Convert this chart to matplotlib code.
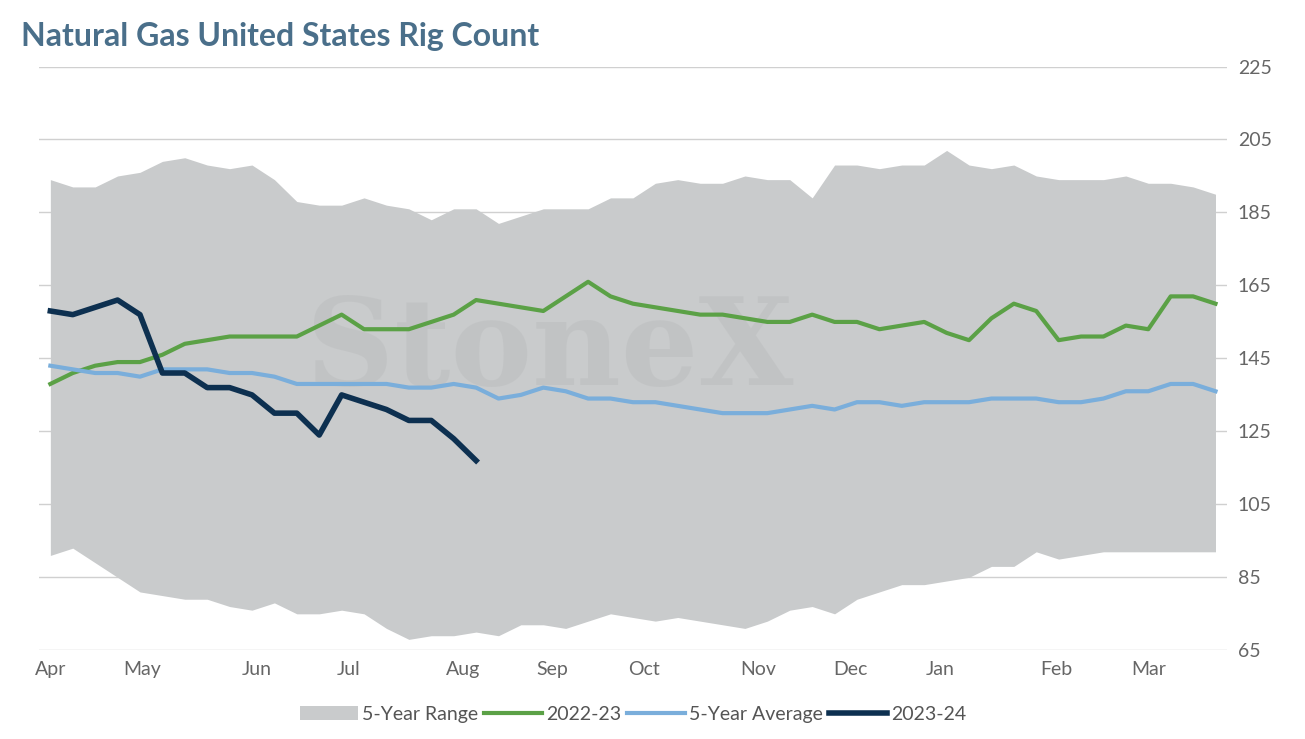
import matplotlib.pyplot as plt
plt.rcParams['font.family'] = ['Lato', 'DejaVu Sans']
weeks = list(range(53))
month_pos = [0, 4.1, 9.2, 13.3, 18.4, 22.4, 26.5, 31.6, 35.7, 39.7, 44.9, 49.0]
month_labels = ['Apr', 'May', 'Jun', 'Jul', 'Aug', 'Sep', 'Oct', 'Nov', 'Dec', 'Jan', 'Feb', 'Mar']
range_high = [194, 192, 192, 195, 196, 199, 200, 198, 197, 198,
              194, 188, 187, 187, 189, 187, 186, 183, 186, 186,
              182, 184, 186, 186, 186, 189, 189, 193, 194, 193,
              193, 195, 194, 194, 189, 198, 198, 197, 198, 198,
              202, 198, 197, 198, 195, 194, 194, 194, 195, 193,
              193, 192, 190]
range_low = [91, 93, 89, 85, 81, 80, 79, 79, 77, 76,
             78, 75, 75, 76, 75, 71, 68, 69, 69, 70,
             69, 72, 72, 71, 73, 75, 74, 73, 74, 73,
             72, 71, 73, 76, 77, 75, 79, 81, 83, 83,
             84, 85, 88, 88, 92, 90, 91, 92, 92, 92,
             92, 92, 92]
last_year = [138, 141, 143, 144, 144, 146, 149, 150, 151, 151,
             151, 151, 154, 157, 153, 153, 153, 155, 157, 161,
             160, 159, 158, 162, 166, 162, 160, 159, 158, 157,
             157, 156, 155, 155, 157, 155, 155, 153, 154, 155,
             152, 150, 156, 160, 158, 150, 151, 151, 154, 153,
             162, 162, 160]
avg_5yr = [143, 142, 141, 141, 140, 142, 142, 142, 141, 141,
           140, 138, 138, 138, 138, 138, 137, 137, 138, 137,
           134, 135, 137, 136, 134, 134, 133, 133, 132, 131,
           130, 130, 130, 131, 132, 131, 133, 133, 132, 133,
           133, 133, 134, 134, 134, 133, 133, 134, 136, 136,
           138, 138, 136]
this_year = [158, 157, 159, 161, 157, 141, 141, 137, 137, 135,
             130, 130, 124, 135, 133, 131, 128, 128, 123, 117]

plt.figure(figsize=(13.05, 7.39), dpi=100)
plt.axes([0.03, 0.12, 0.91, 0.79])
plt.fill_between(weeks, range_low, range_high, color='#c9cbcc', lw=0, label='5-Year Range')
plt.plot(weeks, last_year, color='#5ba146', lw=3, label='2022-23')
plt.plot(weeks, avg_5yr, color='#7aaedb', lw=3, label='5-Year Average')
plt.plot(range(len(this_year)), this_year, color='#0d3050', lw=4, label='2023-24')
plt.text(22.3, 147, 'StoneX', fontsize=88, family='DejaVu Serif', weight='bold', color='#bdbfc0',
         ha='center', va='center', alpha=0.6, zorder=1.5)
ax = plt.gca()
ax.yaxis.tick_right()
plt.yticks(range(65, 226, 20), fontsize=14, color='#666666')
plt.xticks(month_pos, month_labels, fontsize=14, color='#666666')
plt.tick_params(length=0, pad=8)
plt.grid(axis='y', color='#d0d0d0', lw=1)
ax.set_axisbelow(True)
for s in ax.spines.values():
    s.set_visible(False)
plt.xlim(-0.5, 52.5)
plt.ylim(65, 225)
plt.legend(loc='upper center', bbox_to_anchor=(0.5, -0.065), ncol=4, frameon=False,
           fontsize=14, labelcolor='#555555', handlelength=3, columnspacing=0.3, handletextpad=0.2)
plt.figtext(0.016, 0.95, 'Natural Gas United States Rig Count', fontsize=23, weight='bold',
            color='#4a6f8a', ha='left', va='center')
plt.savefig('out.png')
